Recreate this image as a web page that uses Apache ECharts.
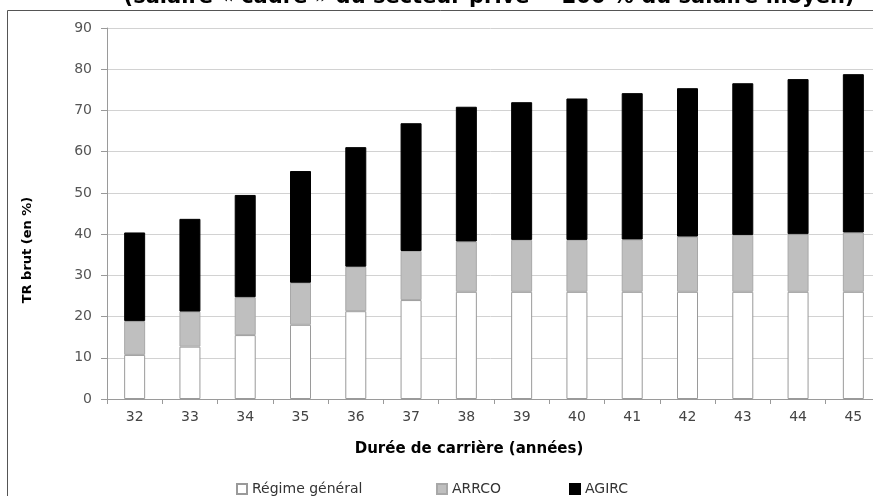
<!DOCTYPE html>
<html>
<head>
<meta charset="utf-8">
<script src="https://cdn.jsdelivr.net/npm/echarts@6/dist/echarts.min.js"></script>
<style>
  html, body { margin: 0; padding: 0; background: #fff; }
  #chart { width: 873px; height: 496px; }
</style>
</head>
<body>
<div id="chart"></div>
<script>
// Career length (years)
const durations = ['32', '33', '34', '35', '36', '37', '38', '39', '40', '41', '42', '43', '44', '45'];
// Gross replacement rate by scheme (%)
const regimeGeneral = [10.7, 12.7, 15.5, 18.0, 21.3, 24.0, 26.0, 26.0, 26.0, 26.0, 26.0, 26.0, 26.0, 26.0];
const arrco         = [8.2, 8.5, 9.2, 10.2, 10.8, 11.9, 12.2, 12.6, 12.6, 12.7, 13.4, 13.8, 14.0, 14.4];
const agirc         = [21.5, 22.5, 24.8, 27.1, 29.0, 31.0, 32.7, 33.4, 34.3, 35.5, 36.0, 36.8, 37.6, 38.4];
const seriesNames   = ['Régime général', 'ARRCO', 'AGIRC'];

const FONT = 'DejaVu Sans';
const chart = echarts.init(document.getElementById('chart'), null, { renderer: 'canvas' });

const barStyle = [
  { color: '#ffffff', borderColor: '#9a9a9a', borderWidth: 1 },
  { color: '#bfbfbf', borderColor: '#a8a8a8', borderWidth: 1 },
  { color: '#000000', borderColor: '#000000', borderWidth: 1 }
];

const legendBase = {
  top: 477,
  icon: 'rect',
  itemWidth: 10,
  itemHeight: 10,
  itemGap: 0,
  textStyle: { fontFamily: FONT, fontSize: 14, color: '#333' }
};

chart.setOption({
  animation: false,
  backgroundColor: '#ffffff',
  // the plot runs past the right edge of the canvas
  grid: { left: 107, top: 28, width: 774, height: 371, outerBoundsMode: 'none', containLabel: false },
  legend: [
    Object.assign({}, legendBase, { data: [seriesNames[0]], left: 231 }),
    Object.assign({}, legendBase, { data: [seriesNames[1]], left: 431 }),
    Object.assign({}, legendBase, { data: [seriesNames[2]], left: 564 })
  ],
  xAxis: {
    type: 'category',
    data: durations,
    boundaryGap: true,
    axisLine: { lineStyle: { color: '#9a9a9a', width: 1 } },
    axisTick: { show: true, length: 5, lineStyle: { color: '#9a9a9a' } },
    axisLabel: { margin: 11, fontFamily: FONT, fontSize: 14, color: '#444' },
    splitLine: { show: false }
  },
  yAxis: {
    type: 'value',
    min: 0,
    max: 90,
    interval: 10,
    axisLine: { show: true, lineStyle: { color: '#9a9a9a', width: 1 } },
    axisTick: { show: true, length: 6, lineStyle: { color: '#9a9a9a' } },
    axisLabel: { margin: 15, fontFamily: FONT, fontSize: 14, color: '#555' },
    splitLine: { show: true, lineStyle: { color: '#d2d2d2', width: 1 } }
  },
  series: [regimeGeneral, arrco, agirc].map((values, i) => ({
    name: seriesNames[i],
    type: 'bar',
    stack: 'tr',
    barWidth: 21,
    data: values,
    itemStyle: barStyle[i]
  })),
  graphic: [
    {
      type: 'rect',
      silent: true,
      shape: { x: 7.5, y: 10.5, width: 900, height: 600 },
      style: { fill: 'none', stroke: '#555', lineWidth: 1 }
    },
    {
      type: 'text',
      silent: true,
      x: 489,
      y: -2,
      style: {
        text: '(salaire « cadre » du secteur privé = 200 % du salaire moyen)',
        fontFamily: FONT,
        fontSize: 21,
        fontWeight: 'bold',
        fill: '#000',
        align: 'center',
        verticalAlign: 'middle'
      }
    },
    {
      type: 'text',
      silent: true,
      x: 28,
      y: 250,
      rotation: Math.PI / 2,
      style: {
        text: 'TR brut (en %)',
        fontFamily: FONT,
        fontSize: 13,
        fontWeight: 'bold',
        fill: '#000',
        align: 'center',
        verticalAlign: 'middle'
      }
    },
    {
      type: 'text',
      silent: true,
      x: 469,
      y: 449,
      style: {
        text: 'Durée de carrière (années)',
        fontFamily: FONT,
        fontSize: 15,
        fontWeight: 'bold',
        fill: '#000',
        align: 'center',
        verticalAlign: 'middle'
      }
    }
  ]
});
</script>
</body>
</html>
